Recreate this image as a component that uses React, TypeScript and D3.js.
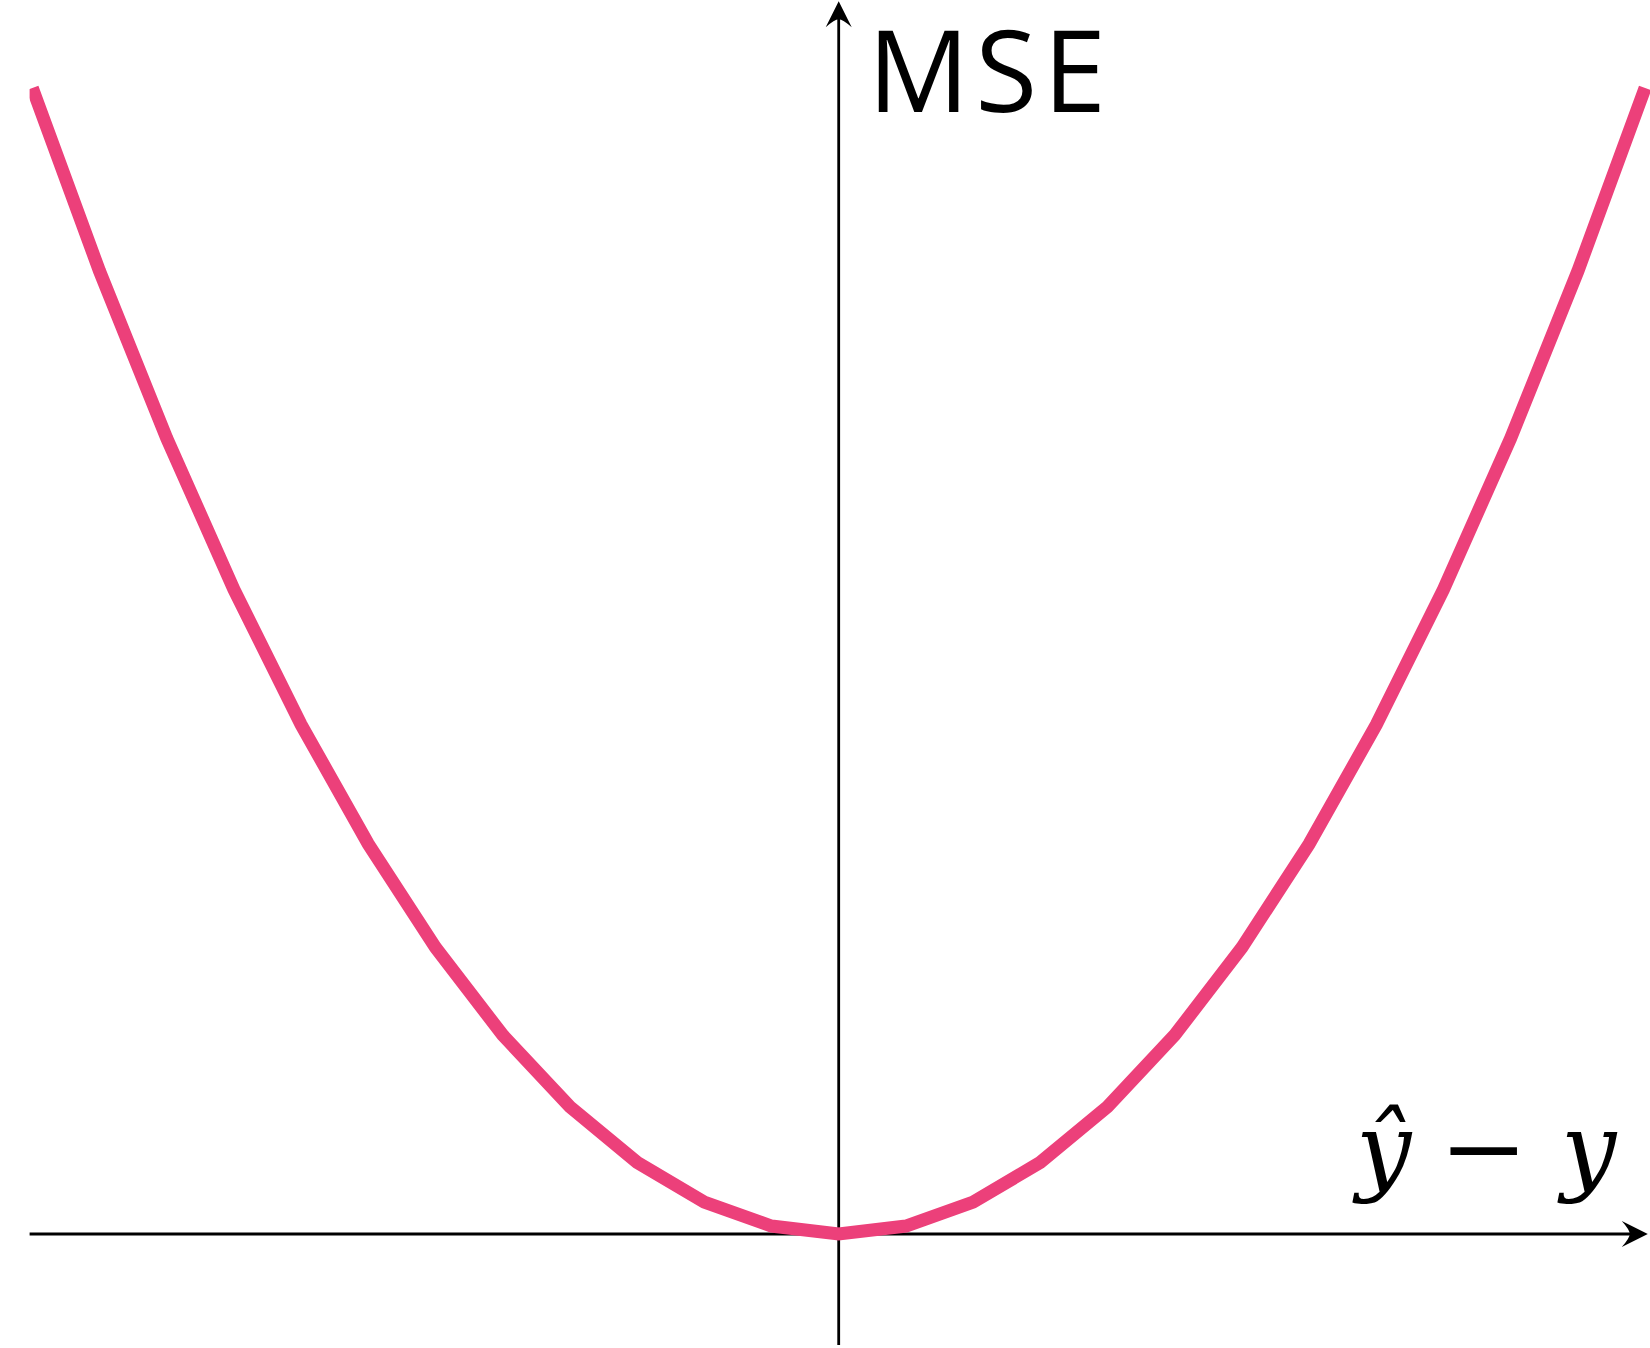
import React from 'react'
import * as d3 from 'd3'

// error values (y-hat minus y) and the squared loss
const errorValues = [-12, -11, -10, -9, -8, -7, -6, -5, -4, -3, -2, -1, 0, 1, 2, 3, 4, 5, 6, 7, 8, 9, 10, 11, 12]
const mseValues = [144, 121, 100, 81, 64, 49, 36, 25, 16, 9, 4, 1, 0, 1, 4, 9, 16, 25, 36, 49, 64, 81, 100, 121, 144]

// how far the axes run, in data units
const xAxisExtent = [-12.04, 12.04]
const yAxisExtent = [-13.95, 154.9]

const yLabel = 'MSE'
const xLabelParts = ['ŷ', '−', 'y']

const width = 1650
const height = 1348
const pink = '#ec407a'

function arrowPath(tipX: number, tipY: number, dir: 'up' | 'right') {
    const len = 26, half = 13, notch = 18
    if (dir === 'right') {
        return `M${tipX},${tipY} L${tipX - len},${tipY - half} Q${tipX - notch},${tipY - 4} ${tipX - notch},${tipY} Q${tipX - notch},${tipY + 4} ${tipX - len},${tipY + half} Z`
    }
    return `M${tipX},${tipY} L${tipX - half},${tipY + len} Q${tipX - 4},${tipY + notch} ${tipX},${tipY + notch} Q${tipX + 4},${tipY + notch} ${tipX + half},${tipY + len} Z`
}

const App = () => {
    const x = d3.scaleLinear().domain([-12, 12]).range([32.3, 1645.1])
    const y = d3.scaleLinear().domain([0, 144]).range([1234, 88])

    const line = d3.line<number>()
        .x((d, i) => x(errorValues[i]))
        .y(d => y(d))

    const x0 = x(0)
    const y0 = y(0)
    const xLeft = x(xAxisExtent[0])
    const xTip = x(xAxisExtent[1])
    const yBottom = y(yAxisExtent[0])
    const yTip = y(yAxisExtent[1])

    return (
        <svg width={width} height={height} viewBox={`0 0 ${width} ${height}`}
             style={{ position: 'absolute', left: 0, top: 0, display: 'block', background: 'white' }}>
            <defs>
                <clipPath id="plotClip">
                    <rect x={xLeft} y={0} width={width - xLeft} height={height} />
                </clipPath>
            </defs>

            {/* axes */}
            <line x1={xLeft} y1={y0} x2={xTip - 16} y2={y0} stroke="black" strokeWidth={2.8} />
            <path d={arrowPath(xTip, y0, 'right')} fill="black" />
            <line x1={x0} y1={yBottom} x2={x0} y2={yTip + 16} stroke="black" strokeWidth={2.8} />
            <path d={arrowPath(x0, yTip, 'up')} fill="black" />

            {/* loss curve */}
            <path d={line(mseValues) || ''} fill="none" stroke={pink} strokeWidth={13}
                  strokeLinejoin="miter" clipPath="url(#plotClip)" />

            {/* labels */}
            <text x={x0 + 29} y={112} fontFamily="'Open Sans', sans-serif" fontSize={113}
                  letterSpacing={6}>{yLabel}</text>
            <g fontFamily="'DejaVu Serif', serif" fontSize={98}>
                <text x={1356} y={1182} fontStyle="italic">{xLabelParts[0]}</text>
                <text x={1439} y={1182} textLength={89} lengthAdjust="spacingAndGlyphs">{xLabelParts[1]}</text>
                <text x={1561} y={1182} fontStyle="italic">{xLabelParts[2]}</text>
            </g>
        </svg>
    )
}

export default App
